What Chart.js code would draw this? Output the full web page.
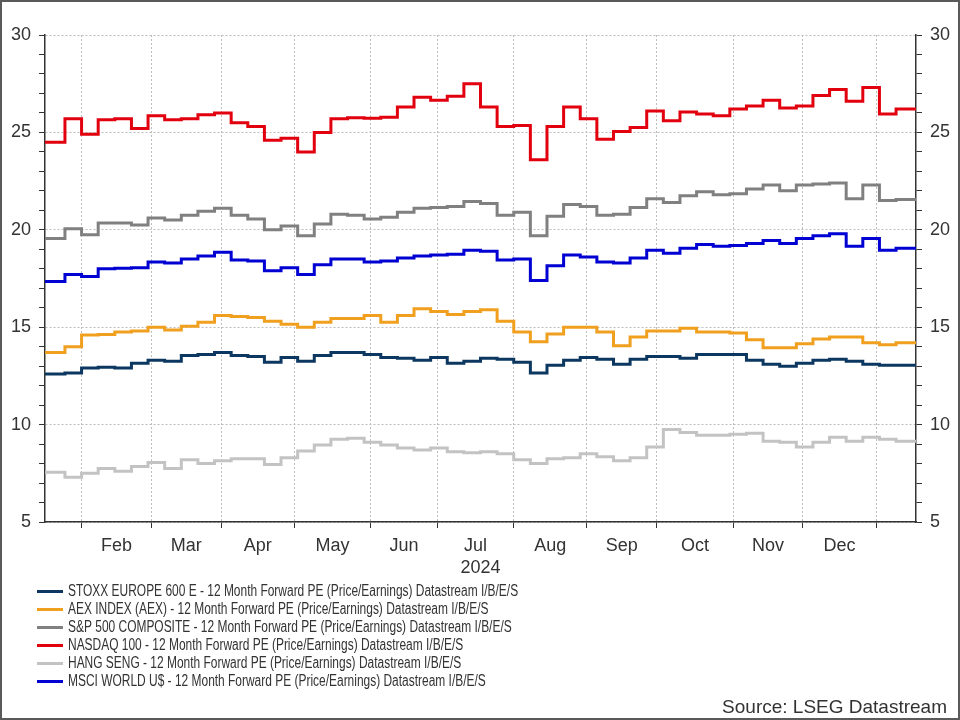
<!DOCTYPE html>
<html>
<head>
<meta charset="utf-8">
<script src="https://cdn.jsdelivr.net/npm/chart.js@4.4.1/dist/chart.umd.min.js"></script>
<style>
html,body{margin:0;padding:0;background:#fff;}
canvas{display:block;}
</style>
</head>
<body>
<canvas id="c" width="960" height="720"></canvas>
<script>
// Weekly I/B/E/S observation dates (first/last are the chart's start and end days)
const obsDates = ['2024-01-17',
  '2024-01-25','2024-02-01','2024-02-08','2024-02-15','2024-02-22','2024-02-29',
  '2024-03-07','2024-03-14','2024-03-21','2024-03-28','2024-04-04','2024-04-11',
  '2024-04-18','2024-04-25','2024-05-02','2024-05-09','2024-05-16','2024-05-23',
  '2024-05-30','2024-06-06','2024-06-13','2024-06-20','2024-06-27','2024-07-04',
  '2024-07-11','2024-07-18','2024-07-25','2024-08-01','2024-08-08','2024-08-15',
  '2024-08-22','2024-08-29','2024-09-05','2024-09-12','2024-09-19','2024-09-26',
  '2024-10-03','2024-10-10','2024-10-17','2024-10-24','2024-10-31','2024-11-07',
  '2024-11-14','2024-11-21','2024-11-28','2024-12-05','2024-12-12','2024-12-19',
  '2024-12-26','2025-01-02','2025-01-09','2025-01-16','2025-01-17'];

const stoxx600 = [12.6,12.65,12.9,12.95,12.9,13.15,13.3,13.25,13.55,13.6,13.7,13.55,13.5,13.2,13.45,13.25,13.55,13.7,13.7,13.6,13.45,13.4,13.3,13.45,13.15,13.25,13.4,13.35,13.2,12.65,13.05,13.3,13.45,13.35,13.1,13.35,13.5,13.5,13.4,13.6,13.6,13.6,13.3,13.1,13.0,13.15,13.3,13.35,13.25,13.1,13.05,13.05,13.05,13.05];
const aex = [13.7,14.0,14.6,14.62,14.75,14.8,15.0,14.85,15.05,15.25,15.6,15.55,15.5,15.3,15.15,15.0,15.25,15.45,15.45,15.6,15.25,15.6,15.95,15.8,15.65,15.8,15.9,15.3,14.75,14.25,14.65,15.0,15.0,14.75,14.05,14.5,14.8,14.8,14.95,14.75,14.75,14.7,14.35,13.95,13.95,14.15,14.4,14.5,14.5,14.2,14.1,14.2,14.2,14.2];
const sp500 = [19.55,20.05,19.75,20.35,20.35,20.25,20.6,20.5,20.75,20.95,21.1,20.75,20.55,20.0,20.2,19.7,20.3,20.8,20.75,20.55,20.65,20.9,21.1,21.15,21.2,21.45,21.35,20.75,20.9,19.7,20.7,21.3,21.2,20.75,20.8,21.15,21.6,21.4,21.75,21.95,21.8,21.85,22.1,22.3,22.0,22.3,22.35,22.4,21.6,22.3,21.5,21.55,21.55,21.55];
const nasdaq100 = [24.5,25.7,24.9,25.65,25.7,25.2,25.85,25.65,25.7,25.9,26.0,25.5,25.3,24.6,24.7,24.0,25.0,25.7,25.75,25.72,25.78,26.3,26.8,26.65,26.85,27.5,26.3,25.3,25.35,23.6,25.3,26.3,25.7,24.65,25.05,25.25,26.1,25.6,26.05,25.95,25.85,26.2,26.35,26.65,26.25,26.35,26.9,27.2,26.6,27.3,25.95,26.2,26.2,26.2];
const hangSeng = [7.55,7.3,7.5,7.75,7.6,7.85,8.05,7.75,8.2,8.0,8.15,8.25,8.25,7.95,8.3,8.65,8.95,9.25,9.3,9.1,8.95,8.8,8.7,8.8,8.6,8.55,8.6,8.5,8.2,8.0,8.25,8.3,8.5,8.35,8.15,8.3,8.85,9.75,9.6,9.45,9.45,9.5,9.55,9.15,9.1,8.85,9.1,9.35,9.15,9.35,9.25,9.15,9.15,9.15];
const msciWorld = [17.35,17.7,17.6,18.0,18.02,18.05,18.35,18.3,18.5,18.65,18.85,18.45,18.4,17.9,18.05,17.7,18.2,18.5,18.5,18.35,18.4,18.55,18.65,18.7,18.75,18.95,18.9,18.45,18.5,17.4,18.15,18.7,18.6,18.35,18.3,18.55,18.95,18.8,19.05,19.25,19.15,19.2,19.3,19.45,19.3,19.55,19.7,19.8,19.15,19.55,18.95,19.05,19.05,19.05];

const seriesNames = [
  'STOXX EUROPE 600 E - 12 Month Forward PE (Price/Earnings) Datastream I/B/E/S',
  'AEX INDEX (AEX) - 12 Month Forward PE (Price/Earnings) Datastream I/B/E/S',
  'S&P 500 COMPOSITE - 12 Month Forward PE (Price/Earnings) Datastream I/B/E/S',
  'NASDAQ 100 - 12 Month Forward PE (Price/Earnings) Datastream I/B/E/S',
  'HANG SENG - 12 Month Forward PE (Price/Earnings) Datastream I/B/E/S',
  'MSCI WORLD U$ - 12 Month Forward PE (Price/Earnings) Datastream I/B/E/S'
];
const seriesColors = ['#0b3760','#f0a01e','#808080','#e2000f','#c3c3c3','#0000d2'];

const monthStartDates = ['2024-02-01','2024-03-01','2024-04-01','2024-05-01','2024-06-01','2024-07-01',
  '2024-08-01','2024-09-01','2024-10-01','2024-11-01','2024-12-01','2025-01-01'];
const monthLabels = ['Feb','Mar','Apr','May','Jun','Jul','Aug','Sep','Oct','Nov','Dec'];
const yearLabel = '2024';
const yMin = 5, yMax = 30, yMajor = 5;
const sourceText = 'Source: LSEG Datastream';

// business-day axis (weekdays since 2024-01-01)
function bday(s) {
  const p = s.split('-').map(Number);
  const t = Date.UTC(p[0], p[1] - 1, p[2]);
  let n = 0;
  for (let x = Date.UTC(2024, 0, 1); x < t; x += 86400000) {
    const wd = new Date(x).getUTCDay();
    if (wd !== 0 && wd !== 6) n++;
  }
  return n;
}
const xs = obsDates.map(bday);
const xMin = xs[0], xMax = xs[xs.length - 1];
const monthStarts = monthStartDates.map(bday);
const monthMids = monthLabels.map((m, i) => (monthStarts[i] + monthStarts[i + 1]) / 2);

const FONT = "'Liberation Sans', Arial, sans-serif";
const TXT = '#333333';
const GRID = '#bdbdbd';

const allSeries = [stoxx600, aex, sp500, nasdaq100, hangSeng, msciWorld];
const datasets = allSeries.map((vals, i) => ({
  label: seriesNames[i],
  data: vals.map((v, j) => ({x: xs[j], y: v})),
  borderColor: seriesColors[i],
  backgroundColor: seriesColors[i],
  borderWidth: 3,
  pointRadius: 0,
  stepped: true,
  fill: false
}));

const framePlugin = {
  id: 'frame',
  beforeDraw(chart) {
    const c = chart.ctx;
    c.save(); c.fillStyle = '#fff'; c.fillRect(0, 0, chart.width, chart.height); c.restore();
  },
  afterDraw(chart) {
    const c = chart.ctx;
    c.save();
    // legend
    const x0 = 37, x1 = 63, tx = 68, y0 = 591.5, dy = 18, narrow = 0.747;
    chart.data.datasets.forEach((ds, i) => {
      const y = y0 + i * dy;
      c.strokeStyle = ds.borderColor; c.lineWidth = 3; c.lineCap = 'butt';
      c.beginPath(); c.moveTo(x0, y); c.lineTo(x1, y); c.stroke();
      c.save();
      c.translate(tx, y + 0.5);
      c.scale(narrow, 1);
      c.fillStyle = TXT; c.font = '16px ' + FONT;
      c.textBaseline = 'middle'; c.textAlign = 'left';
      c.fillText(ds.label, 0, 0);
      c.restore();
    });
    // source
    c.font = '19px ' + FONT; c.textAlign = 'right'; c.textBaseline = 'alphabetic';
    c.fillStyle = TXT;
    c.fillText(sourceText, 947, 713);
    // frame
    c.strokeStyle = '#5a5a5a'; c.lineWidth = 2;
    c.strokeRect(1, 1, chart.width - 2, chart.height - 2);
    c.restore();
  }
};

const yCommon = {
  type: 'linear', min: yMin, max: yMax,
  ticks: {
    stepSize: 1, autoSkip: false, padding: 8, color: TXT,
    font: {family: FONT, size: 18},
    callback: v => (v % yMajor === 0 ? String(v) : '')
  },
  border: {display: true, color: '#333', width: 1.5, dash: [2, 2]}
};

new Chart(document.getElementById('c'), {
  type: 'line',
  data: {datasets},
  plugins: [framePlugin],
  options: {
    responsive: false,
    animation: false,
    layout: {padding: {top: 35, left: 0, right: 0, bottom: 141}},
    plugins: {legend: {display: false}, tooltip: {enabled: false}},
    scales: {
      x: {
        type: 'linear', position: 'bottom', min: xMin, max: xMax, weight: 0,
        afterBuildTicks: s => { s.ticks = monthStarts.map(v => ({value: v})); },
        afterFit: s => { s.height = 0; },
        ticks: {display: false, autoSkip: false},
        grid: {color: GRID, lineWidth: 1, tickColor: '#333', tickLength: 6, tickWidth: 1},
        border: {display: true, color: '#333', width: 1.5, dash: [2, 2]}
      },
      xl: {
        type: 'linear', position: 'bottom', min: xMin, max: xMax, weight: 1,
        afterBuildTicks: s => { s.ticks = monthMids.map(v => ({value: v})); },
        afterFit: s => { s.height = 57; },
        ticks: {
          autoSkip: false, maxRotation: 0, minRotation: 0, padding: 5, color: TXT,
          font: {family: FONT, size: 18},
          callback: (v, i) => monthLabels[i]
        },
        grid: {display: false},
        border: {display: false},
        title: {display: true, text: yearLabel, color: TXT, font: {family: FONT, size: 18}, padding: {top: 0, bottom: 0}}
      },
      y: Object.assign({}, yCommon, {
        position: 'left',
        afterFit: s => { s.width = 45; },
        grid: {
          color: c => (c.tick && c.tick.value % yMajor === 0 ? GRID : 'rgba(0,0,0,0)'),
          tickColor: '#333', tickLength: 6, tickWidth: 1
        }
      }),
      y2: Object.assign({}, yCommon, {
        position: 'right',
        afterFit: s => { s.width = 44; },
        grid: {drawOnChartArea: false, tickColor: '#333', tickLength: 6, tickWidth: 1},
        border: {display: true, color: '#333', width: 1.5}
      })
    }
  }
});
</script>
</body>
</html>
